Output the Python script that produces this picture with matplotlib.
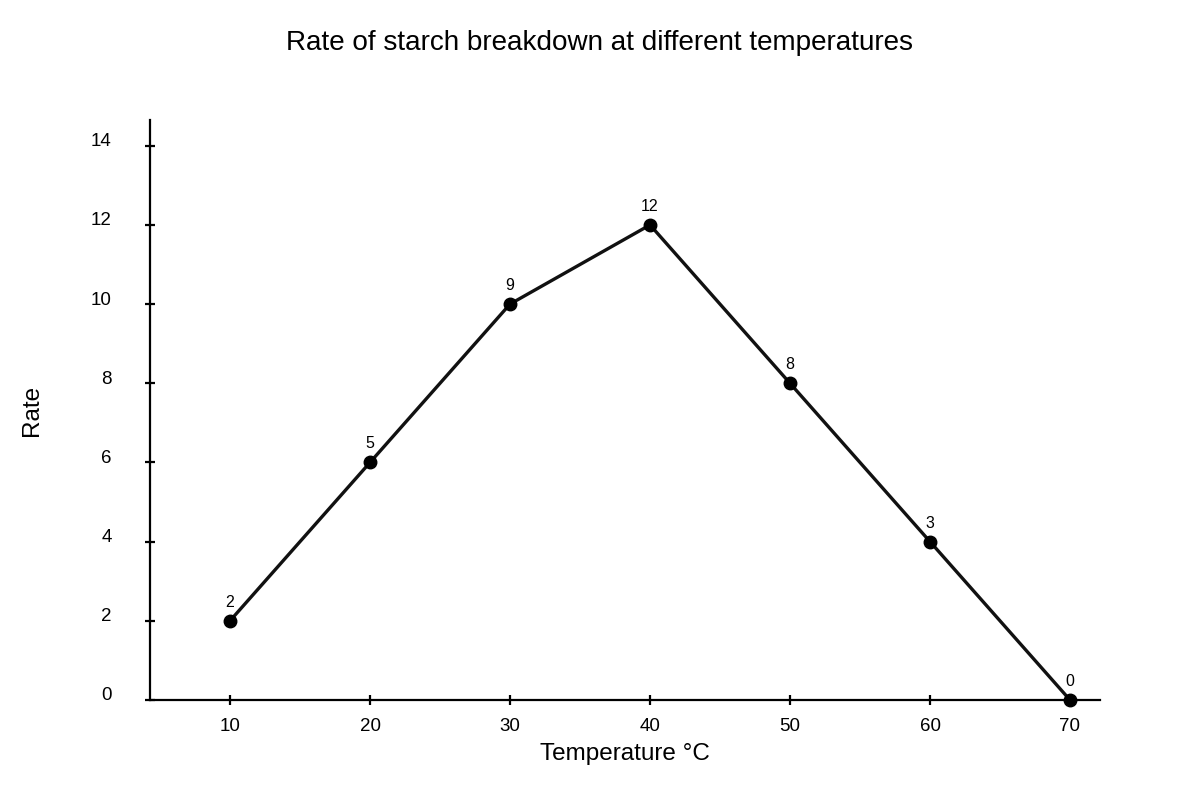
import matplotlib.pyplot as plt
import matplotlib.transforms as mtransforms

plt.rcParams['font.family'] = ['Liberation Sans', 'DejaVu Sans']

# Data
temperatures = [10, 20, 30, 40, 50, 60, 70]
rates = [2, 6, 10, 12, 8, 4, 0]
point_labels = ['2', '5', '9', '12', '8', '3', '0']
y_ticks = [0, 2, 4, 6, 8, 10, 12, 14]

fig = plt.figure(figsize=(12, 8), dpi=100)
ax = fig.add_axes([150 / 1200, 1 - 700 / 800, 950 / 1200, 580 / 800])

ax.plot(temperatures, rates, color='#111111', linewidth=2.4, marker='o',
        markersize=9, markerfacecolor='black', markeredgecolor='black',
        clip_on=False, zorder=3)

# labels above each point
for x, y, lab in zip(temperatures, rates, point_labels):
    ax.annotate(lab, (x, y), xytext=(0, 8), textcoords='offset points',
                ha='center', va='bottom', fontsize=11.5)

ax.set_xlim(10 - 80 / 14, 70 + 30 / 14)
ax.set_ylim(0, 14.65)
ax.set_xticks(temperatures)
ax.set_yticks(y_ticks)

for side in ['top', 'right']:
    ax.spines[side].set_visible(False)
for side in ['left', 'bottom']:
    ax.spines[side].set_linewidth(1.6)
    ax.spines[side].set_color('black')

ax.tick_params(axis='both', direction='inout', length=7, width=1.6,
               labelsize=13.5, colors='black')
ax.tick_params(axis='x', pad=9.5)
ax.tick_params(axis='y', pad=24)

# y tick labels sit a little above their ticks
shift = mtransforms.ScaledTranslation(0, 6 / 100, fig.dpi_scale_trans)
for lbl in ax.get_yticklabels():
    lbl.set_transform(lbl.get_transform() + shift)

ax.set_xlabel('Temperature °C', fontsize=17.5, labelpad=6)
ax.set_ylabel('Rate', fontsize=17.5)
ax.yaxis.set_label_coords(32 / 1200, 0.5, transform=fig.transFigure)
ax.yaxis.label.set_va('center')
ax.yaxis.label.set_y(1 - 410 / 800)
fig.text(0.5, 1 - 43 / 800, 'Rate of starch breakdown at different temperatures',
         ha='center', va='center', fontsize=20.1)

fig.savefig('out.png', dpi=100)
